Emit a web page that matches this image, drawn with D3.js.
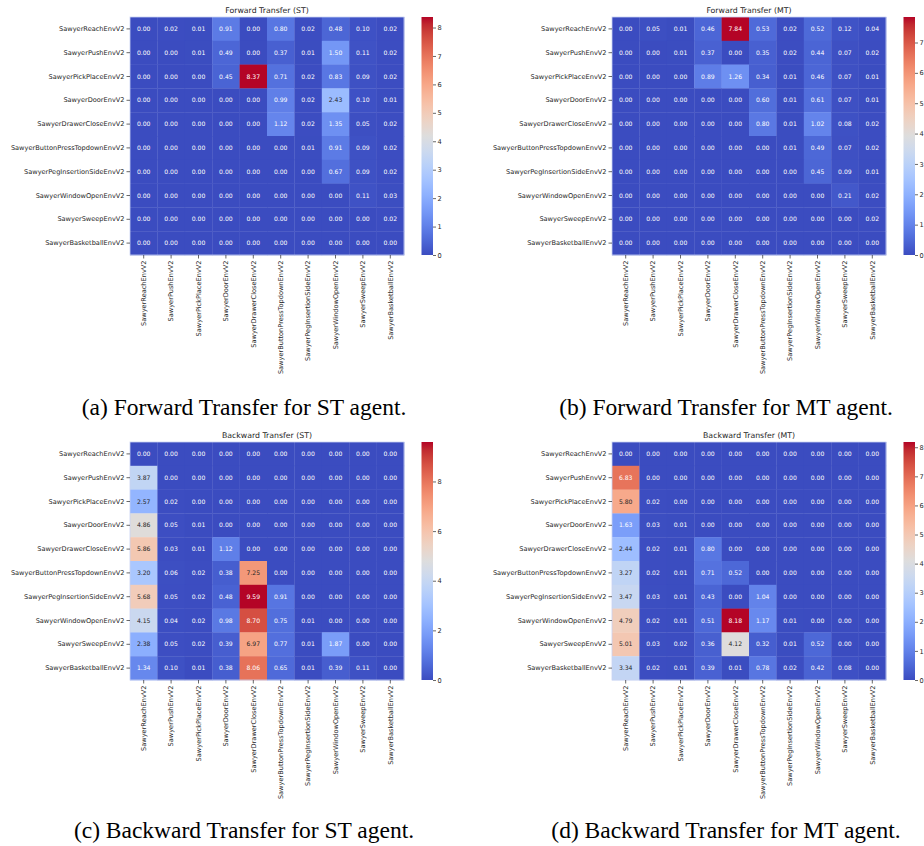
<!DOCTYPE html>
<html>
<head>
<meta charset="utf-8">
<script src="https://cdn.jsdelivr.net/npm/d3@7"></script>
<style>
body{margin:0;background:#fff;}
svg{display:block;}
.tick text{font-family:"DejaVu Sans",sans-serif;fill:#262626;}
.tick line{stroke:#262626;stroke-width:0.7;}
</style>
</head>
<body>
<script>
var tasks = ["SawyerReachEnvV2","SawyerPushEnvV2","SawyerPickPlaceEnvV2","SawyerDoorEnvV2","SawyerDrawerCloseEnvV2",
             "SawyerButtonPressTopdownEnvV2","SawyerPegInsertionSideEnvV2","SawyerWindowOpenEnvV2","SawyerSweepEnvV2","SawyerBasketballEnvV2"];

var ftST = [
  [0.00,0.02,0.01,0.91,0.00,0.80,0.02,0.48,0.10,0.02],
  [0.00,0.00,0.01,0.49,0.00,0.37,0.01,1.50,0.11,0.02],
  [0.00,0.00,0.00,0.45,8.37,0.71,0.02,0.83,0.09,0.02],
  [0.00,0.00,0.00,0.00,0.00,0.99,0.02,2.43,0.10,0.01],
  [0.00,0.00,0.00,0.00,0.00,1.12,0.02,1.35,0.05,0.02],
  [0.00,0.00,0.00,0.00,0.00,0.00,0.01,0.91,0.09,0.02],
  [0.00,0.00,0.00,0.00,0.00,0.00,0.00,0.67,0.09,0.02],
  [0.00,0.00,0.00,0.00,0.00,0.00,0.00,0.00,0.11,0.03],
  [0.00,0.00,0.00,0.00,0.00,0.00,0.00,0.00,0.00,0.02],
  [0.00,0.00,0.00,0.00,0.00,0.00,0.00,0.00,0.00,0.00]];
var ftMT = [
  [0.00,0.05,0.01,0.46,7.84,0.53,0.02,0.52,0.12,0.04],
  [0.00,0.00,0.01,0.37,0.00,0.35,0.02,0.44,0.07,0.02],
  [0.00,0.00,0.00,0.89,1.26,0.34,0.01,0.46,0.07,0.01],
  [0.00,0.00,0.00,0.00,0.00,0.60,0.01,0.61,0.07,0.01],
  [0.00,0.00,0.00,0.00,0.00,0.80,0.01,1.02,0.08,0.02],
  [0.00,0.00,0.00,0.00,0.00,0.00,0.01,0.49,0.07,0.02],
  [0.00,0.00,0.00,0.00,0.00,0.00,0.00,0.45,0.09,0.01],
  [0.00,0.00,0.00,0.00,0.00,0.00,0.00,0.00,0.21,0.02],
  [0.00,0.00,0.00,0.00,0.00,0.00,0.00,0.00,0.00,0.02],
  [0.00,0.00,0.00,0.00,0.00,0.00,0.00,0.00,0.00,0.00]];
var btST = [
  [0.00,0.00,0.00,0.00,0.00,0.00,0.00,0.00,0.00,0.00],
  [3.87,0.00,0.00,0.00,0.00,0.00,0.00,0.00,0.00,0.00],
  [2.57,0.02,0.00,0.00,0.00,0.00,0.00,0.00,0.00,0.00],
  [4.86,0.05,0.01,0.00,0.00,0.00,0.00,0.00,0.00,0.00],
  [5.86,0.03,0.01,1.12,0.00,0.00,0.00,0.00,0.00,0.00],
  [3.20,0.06,0.02,0.38,7.25,0.00,0.00,0.00,0.00,0.00],
  [5.68,0.05,0.02,0.48,9.59,0.91,0.00,0.00,0.00,0.00],
  [4.15,0.04,0.02,0.98,8.70,0.75,0.01,0.00,0.00,0.00],
  [2.38,0.05,0.02,0.39,6.97,0.77,0.01,1.87,0.00,0.00],
  [1.34,0.10,0.01,0.38,8.06,0.65,0.01,0.39,0.11,0.00]];
var btMT = [
  [0.00,0.00,0.00,0.00,0.00,0.00,0.00,0.00,0.00,0.00],
  [6.83,0.00,0.00,0.00,0.00,0.00,0.00,0.00,0.00,0.00],
  [5.80,0.02,0.00,0.00,0.00,0.00,0.00,0.00,0.00,0.00],
  [1.63,0.03,0.01,0.00,0.00,0.00,0.00,0.00,0.00,0.00],
  [2.44,0.02,0.01,0.80,0.00,0.00,0.00,0.00,0.00,0.00],
  [3.27,0.02,0.01,0.71,0.52,0.00,0.00,0.00,0.00,0.00],
  [3.47,0.03,0.01,0.43,0.00,1.04,0.00,0.00,0.00,0.00],
  [4.79,0.02,0.01,0.51,8.18,1.17,0.01,0.00,0.00,0.00],
  [5.01,0.03,0.02,0.36,4.12,0.32,0.01,0.52,0.00,0.00],
  [3.34,0.02,0.01,0.39,0.01,0.78,0.02,0.42,0.08,0.00]];

var titles = ["Forward Transfer (ST)","Forward Transfer (MT)","Backward Transfer (ST)","Backward Transfer (MT)"];
var captions = ["(a) Forward Transfer for ST agent.","(b) Forward Transfer for MT agent.",
                "(c) Backward Transfer for ST agent.","(d) Backward Transfer for MT agent."];
var cbTicks = [[0,1,2,3,4,5,6,7,8],[0,1,2,3,4,5,6,7],[0,2,4,6,8],[0,1,2,3,4,5,6,7,8]];

// matplotlib coolwarm (Moreland), 33 stops
var cwStops = [[59,76,192],[68,90,204],[77,104,215],[87,117,225],[98,130,234],[108,142,241],[119,154,247],
  [130,165,251],[141,176,254],[152,185,255],[163,194,255],[174,201,253],[184,208,249],[194,213,244],
  [204,217,238],[213,219,230],[221,221,221],[229,216,209],[236,211,197],[241,204,185],[245,196,173],
  [247,187,160],[247,177,148],[247,166,135],[244,154,123],[241,141,111],[236,127,99],[229,112,88],
  [222,96,77],[213,80,66],[203,62,56],[192,40,47],[180,4,38]];
var cwPos = cwStops.map(function(d,i){return i/(cwStops.length-1);});
var coolwarm = d3.scaleLinear()
    .domain(cwPos)
    .range(cwStops.map(function(c){return d3.rgb(c[0],c[1],c[2]).formatHex();}))
    .interpolate(d3.interpolateRgb)
    .clamp(true);

var width = 924, height = 846;
var gridW = 274, gridH = 238;
var layout = [
  {x:130, y:17,  capX:244, capY:415},
  {x:612, y:17,  capX:726, capY:415},
  {x:130, y:442, capX:244, capY:838},
  {x:612, y:442, capX:726, capY:838}];

var svg = d3.select("body").append("svg")
    .attr("width", width)
    .attr("height", height);

var grad = svg.append("defs").append("linearGradient")
    .attr("id","cw")
    .attr("x1",0).attr("y1",1).attr("x2",0).attr("y2",0);
grad.selectAll("stop").data(cwPos).enter().append("stop")
    .attr("offset", function(d){return (d*100)+"%";})
    .attr("stop-color", function(d){return coolwarm(d);});

// seaborn picks dark or white annotation text from luminance
function textColor(c){
  var rgb = d3.rgb(c);
  var lin = [rgb.r, rgb.g, rgb.b].map(function(v){
    v = v/255;
    return v <= 0.03928 ? v/12.92 : Math.pow((v+0.055)/1.055, 2.4);
  });
  var lum = 0.2126*lin[0] + 0.7152*lin[1] + 0.0722*lin[2];
  return lum > 0.408 ? "#262626" : "#ffffff";
}

function drawPanel(i, data){
  var p = layout[i];
  var vmax = d3.max(data, function(r){return d3.max(r);});
  var g = svg.append("g").attr("transform","translate("+[p.x,p.y]+")");

  var x = d3.scaleBand().domain(tasks).range([0,gridW]);
  var y = d3.scaleBand().domain(tasks).range([0,gridH]);

  var cells = [];
  data.forEach(function(row, r){
    row.forEach(function(v, c){ cells.push({row:tasks[r], col:tasks[c], v:v}); });
  });

  g.selectAll(".cell").data(cells).enter().append("rect")
    .attr("class","cell")
    .attr("x", function(d){return x(d.col);})
    .attr("y", function(d){return y(d.row);})
    .attr("width", x.bandwidth()+0.3)
    .attr("height", y.bandwidth()+0.3)
    .style("fill", function(d){return coolwarm(d.v/vmax);});

  g.selectAll(".annot").data(cells).enter().append("text")
    .attr("class","annot")
    .attr("x", function(d){return x(d.col)+x.bandwidth()/2;})
    .attr("y", function(d){return y(d.row)+y.bandwidth()/2;})
    .attr("text-anchor","middle")
    .attr("dy","0.35em")
    .style("font-family","DejaVu Sans, sans-serif")
    .style("font-size","6.1px")
    .style("fill", function(d){return textColor(coolwarm(d.v/vmax));})
    .text(function(d){return d.v.toFixed(2);});

  g.append("rect")
    .attr("width",gridW).attr("height",gridH)
    .style("fill","none").style("stroke","#c9d2f3").style("stroke-width",0.8);

  var yAxis = g.append("g").call(d3.axisLeft(y).tickSize(3.5).tickPadding(2));
  yAxis.select(".domain").remove();
  yAxis.selectAll("text").style("font-size","6.6px");

  var xAxis = g.append("g").attr("transform","translate(0,"+gridH+")")
    .call(d3.axisBottom(x).tickSize(3.5).tickPadding(2));
  xAxis.select(".domain").remove();
  xAxis.selectAll("text")
    .style("font-size","6.6px")
    .attr("text-anchor","end")
    .attr("transform","rotate(-90)")
    .attr("x",-5.5)
    .attr("y",0)
    .attr("dy","0.35em");

  g.append("text")
    .attr("x",gridW/2).attr("y",-4)
    .attr("text-anchor","middle")
    .style("font-family","DejaVu Sans, sans-serif")
    .style("font-size","7.8px")
    .style("fill","#262626")
    .text(titles[i]);

  // colorbar
  var cb = g.append("g").attr("transform","translate(291.5,0)");
  cb.append("rect")
    .attr("width",11.5).attr("height",gridH)
    .style("fill","url(#cw)");
  var cbScale = d3.scaleLinear().domain([0,vmax]).range([gridH,0]);
  var cbAxis = cb.append("g").attr("transform","translate(11.5,0)")
    .call(d3.axisRight(cbScale).tickValues(cbTicks[i]).tickFormat(d3.format("d")).tickSize(3).tickPadding(1.5));
  cbAxis.select(".domain").remove();
  cbAxis.selectAll("text").style("font-size","6.6px");

  svg.append("text")
    .attr("x",p.capX).attr("y",p.capY)
    .attr("text-anchor","middle")
    .style("font-family","Liberation Serif, Times New Roman, serif")
    .style("font-size","23.5px")
    .style("fill","#000")
    .text(captions[i]);
}

[ftST, ftMT, btST, btMT].forEach(function(d,i){ drawPanel(i,d); });
</script>
</body>
</html>
